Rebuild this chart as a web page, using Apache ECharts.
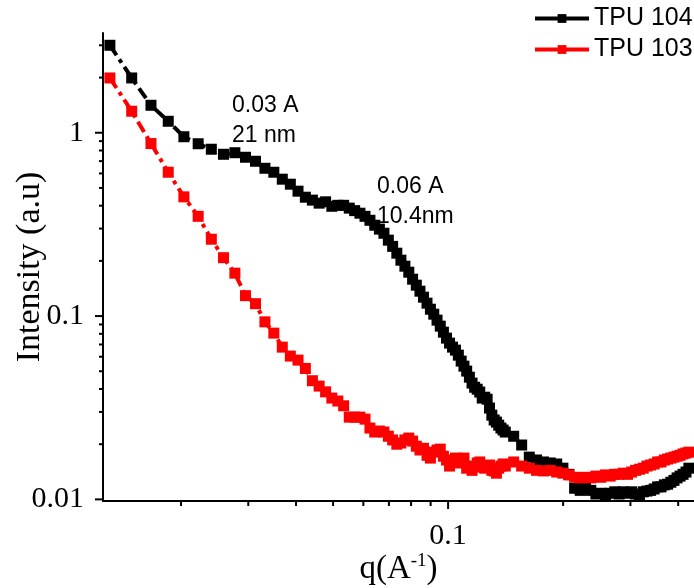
<!DOCTYPE html>
<html><head><meta charset="utf-8">
<script src="https://cdn.jsdelivr.net/npm/echarts@6/dist/echarts.min.js"></script>
<style>html,body{margin:0;padding:0;background:#fff}#c{width:694px;height:588px}</style>
</head><body><div id="c"></div>
<script>
// q values (A^-1)
const q = [0.01303, 0.01486, 0.01669, 0.01852, 0.02035, 0.02218, 0.02401, 0.02584, 0.02767, 0.02950,
  0.03133, 0.03316, 0.03499, 0.03682, 0.03865, 0.04048, 0.04231, 0.04414, 0.04597, 0.04780,
  0.04963, 0.05146, 0.05329, 0.05512, 0.05695, 0.05878, 0.06061, 0.06244, 0.06427, 0.06610,
  0.06793, 0.06976, 0.07159, 0.07342, 0.07525, 0.07708, 0.07891, 0.08074, 0.08257, 0.08440,
  0.08623, 0.08806, 0.08989, 0.09172, 0.09355, 0.09538, 0.09721, 0.09904, 0.10087, 0.10270,
  0.10453, 0.10636, 0.10819, 0.11002, 0.11185, 0.11368, 0.11551, 0.11734, 0.11917, 0.12100,
  0.12283, 0.12466, 0.12649, 0.12832, 0.13015, 0.13198, 0.13381, 0.13564, 0.13747, 0.13930,
  0.14113,
  0.14845, 0.15577, 0.16309, 0.17041, 0.17773, 0.18505, 0.19237, 0.19969, 0.20701, 0.21433,
  0.22165, 0.22897, 0.23629, 0.24361, 0.25093, 0.25825, 0.26557, 0.27289, 0.28021, 0.28753,
  0.29485, 0.30217, 0.30949, 0.31681, 0.32413, 0.33145, 0.33877, 0.34609, 0.35341, 0.36073,
  0.36805, 0.37537, 0.38269, 0.39001, 0.39733, 0.40465, 0.41197, 0.41929, 0.42661];

// TPU 104 intensity (a.u)
const tpu104 = [3.000, 1.990, 1.412, 1.155, 0.951, 0.871, 0.813, 0.763, 0.778, 0.735,
  0.699, 0.640, 0.609, 0.558, 0.524, 0.480, 0.445, 0.429, 0.413, 0.420,
  0.397, 0.402, 0.402, 0.388, 0.376, 0.364, 0.350, 0.333, 0.313, 0.298,
  0.283, 0.2594, 0.240, 0.2203, 0.2017, 0.1871, 0.1735, 0.1589, 0.1474, 0.1367,
  0.1268, 0.1176, 0.1090, 0.1024, 0.0950, 0.0881, 0.0817, 0.0758, 0.0712, 0.0677,
  0.0652, 0.0612, 0.0568, 0.0533, 0.0501, 0.0464, 0.0431, 0.0409, 0.0399, 0.0385,
  0.0357, 0.0361, 0.0352, 0.0315, 0.0288, 0.0271, 0.0264, 0.0254, 0.0245, 0.0239,
  0.0233,
  0.0221, 0.0198, 0.0170, 0.0164, 0.0160, 0.0158, 0.0156, 0.0148, 0.0137, 0.0115,
  0.0112, 0.0115, 0.0112, 0.0107, 0.0108, 0.0106, 0.0108, 0.0110, 0.0107, 0.0110,
  0.0108, 0.0110, 0.0107, 0.0106, 0.0110, 0.0111, 0.0112, 0.0114, 0.0117, 0.0117,
  0.0120, 0.0121, 0.0124, 0.0127, 0.0131, 0.0134, 0.0137, 0.0141, 0.0148];

// TPU 103 intensity (a.u)
const tpu103 = [1.990, 1.310, 0.873, 0.609, 0.447, 0.350, 0.2626, 0.2082, 0.1714, 0.1292,
  0.1168, 0.0930, 0.0807, 0.0677, 0.0605, 0.0575, 0.0518, 0.0444, 0.0415, 0.0386,
  0.0357, 0.0344, 0.0324, 0.0281, 0.0281, 0.0281, 0.0274, 0.0245, 0.0233, 0.0236,
  0.0233, 0.0221, 0.0211, 0.0200, 0.0203, 0.0211, 0.0216, 0.0208, 0.0195, 0.0186,
  0.0190, 0.0174, 0.0168, 0.0181, 0.0186, 0.0188, 0.0172, 0.0164, 0.0152, 0.0160,
  0.0168, 0.0158, 0.0160, 0.0168, 0.0148, 0.0152, 0.0144, 0.0150, 0.0158, 0.0160,
  0.0152, 0.0148, 0.0150, 0.0154, 0.0144, 0.0143, 0.0139, 0.0148, 0.0152, 0.0156,
  0.0152,
  0.0160, 0.0152, 0.0148, 0.0144, 0.0143, 0.0144, 0.0141, 0.0139, 0.0136, 0.0132,
  0.0131, 0.0132, 0.0131, 0.0134, 0.0132, 0.0136, 0.0134, 0.0137, 0.0137, 0.0139,
  0.0137, 0.0141, 0.0144, 0.0146, 0.0148, 0.0152, 0.0154, 0.0156, 0.0160, 0.0160,
  0.0164, 0.0166, 0.0168, 0.0170, 0.0172, 0.0174, 0.0177, 0.0179, 0.0181];

const seriesNames = ['TPU 104', 'TPU 103'];
const xMajorTicks = [0.1];
const xTickLabels = ['0.1'];
const yMajorTicks = [0.01, 0.1, 1];
const yTickLabels = ['0.01', '0.1', '1'];
const xMinorTicks = [0.02, 0.03, 0.04, 0.05, 0.06, 0.07, 0.08, 0.09, 0.2, 0.3, 0.4];
const yMinorTicks = [0.02, 0.03, 0.04, 0.05, 0.06, 0.07, 0.08, 0.09,
  0.2, 0.3, 0.4, 0.5, 0.6, 0.7, 0.8, 0.9, 2, 3];
const annotations = ['0.03 A\n21 nm', '0.06 A\n10.4nm'];

const X_MIN = 0.0125, X_MAX = 0.44, Y_MIN = 0.0098, Y_MAX = 3.5;

function labelFor(v, vals, labels) {
  for (let i = 0; i < vals.length; i++) {
    if (Math.abs(Math.log10(v) - Math.log10(vals[i])) < 1e-6) return labels[i];
  }
  return '';
}

function tickSeries(dim, values, len) {
  return {
    type: 'custom', silent: true, z: 1, clip: false,
    xAxisIndex: 0, yAxisIndex: 0,
    data: values.map(v => dim === 'x' ? [v, Y_MIN] : [X_MIN, v]),
    renderItem: function (params, api) {
      const p = api.coord([api.value(0), api.value(1)]);
      const shape = dim === 'x'
        ? { x1: p[0], y1: p[1], x2: p[0], y2: p[1] + len }
        : { x1: p[0] - len, y1: p[1], x2: p[0], y2: p[1] };
      return { type: 'line', shape: shape, style: { stroke: '#000', lineWidth: 2 } };
    }
  };
}

const chart = echarts.init(document.getElementById('c'), null, { renderer: 'canvas' });
const serif = '"Liberation Serif", "Times New Roman", serif';
const sans = '"Liberation Sans", Arial, sans-serif';

chart.setOption({
  animation: false,
  backgroundColor: '#fff',
  grid: { left: 103, right: 0, top: 33, bottom: 87, containLabel: false, outerBoundsMode: 'none' },
  legend: {
    data: seriesNames, orient: 'vertical', left: 533, top: 6, padding: 0,
    itemWidth: 54, itemHeight: 11, itemGap: 6,
    textStyle: { fontFamily: sans, fontSize: 25, color: '#000' },
    lineStyle: { type: 'solid', width: 4 }
  },
  xAxis: {
    type: 'log', logBase: 10, min: X_MIN, max: X_MAX,
    axisLine: { show: true, onZero: false, lineStyle: { color: '#000', width: 2 } },
    axisTick: { show: false }, splitLine: { show: false },
    axisLabel: {
      formatter: v => labelFor(v, xMajorTicks, xTickLabels),
      fontFamily: serif, fontSize: 30, color: '#000', margin: 20
    },
    name: '{a|q(A}{b|-1}{a|)}', nameLocation: 'middle', nameGap: 51, nameMoveOverlap: false,
    nameTextStyle: {
      rich: {
        a: { fontFamily: serif, fontSize: 33, color: '#000', lineHeight: 34 },
        b: { fontFamily: serif, fontSize: 19, color: '#000', verticalAlign: 'top', lineHeight: 34 }
      }
    }
  },
  yAxis: {
    type: 'log', logBase: 10, min: Y_MIN, max: Y_MAX,
    axisLine: { show: true, onZero: false, lineStyle: { color: '#000', width: 2 } },
    axisTick: { show: false }, splitLine: { show: false },
    axisLabel: {
      formatter: v => labelFor(v, yMajorTicks, yTickLabels),
      fontFamily: serif, fontSize: 30, color: '#000', margin: 19
    },
    name: 'Intensity (a.u)', nameLocation: 'middle', nameGap: 56, nameMoveOverlap: false,
    nameTextStyle: { fontFamily: serif, fontSize: 34, color: '#000' }
  },
  graphic: [
    { type: 'text', left: 232, top: 91, style: { text: annotations[0], fontFamily: sans, fontSize: 23, lineHeight: 30, fill: '#000' } },
    { type: 'text', left: 377, top: 172, style: { text: annotations[1], fontFamily: sans, fontSize: 23, lineHeight: 30, fill: '#000' } }
  ],
  series: [
    tickSeries('x', xMajorTicks, 8),
    tickSeries('x', xMinorTicks, 5),
    tickSeries('y', yMajorTicks, 8),
    tickSeries('y', yMinorTicks, 4),
    {
      name: seriesNames[0], type: 'line', z: 2,
      data: q.map((x, i) => [x, tpu104[i]]),
      symbol: 'rect', symbolSize: 11, showAllSymbol: true,
      itemStyle: { color: '#000000' },
      lineStyle: { color: '#000000', width: 4, type: [12, 5, 4, 5] }
    },
    {
      name: seriesNames[1], type: 'line', z: 3,
      data: q.map((x, i) => [x, tpu103[i]]),
      symbol: 'rect', symbolSize: 11, showAllSymbol: true,
      itemStyle: { color: '#ff0000' },
      lineStyle: { color: '#ff0000', width: 4, type: [12, 5, 4, 5] }
    }
  ]
});
</script>
</body></html>
